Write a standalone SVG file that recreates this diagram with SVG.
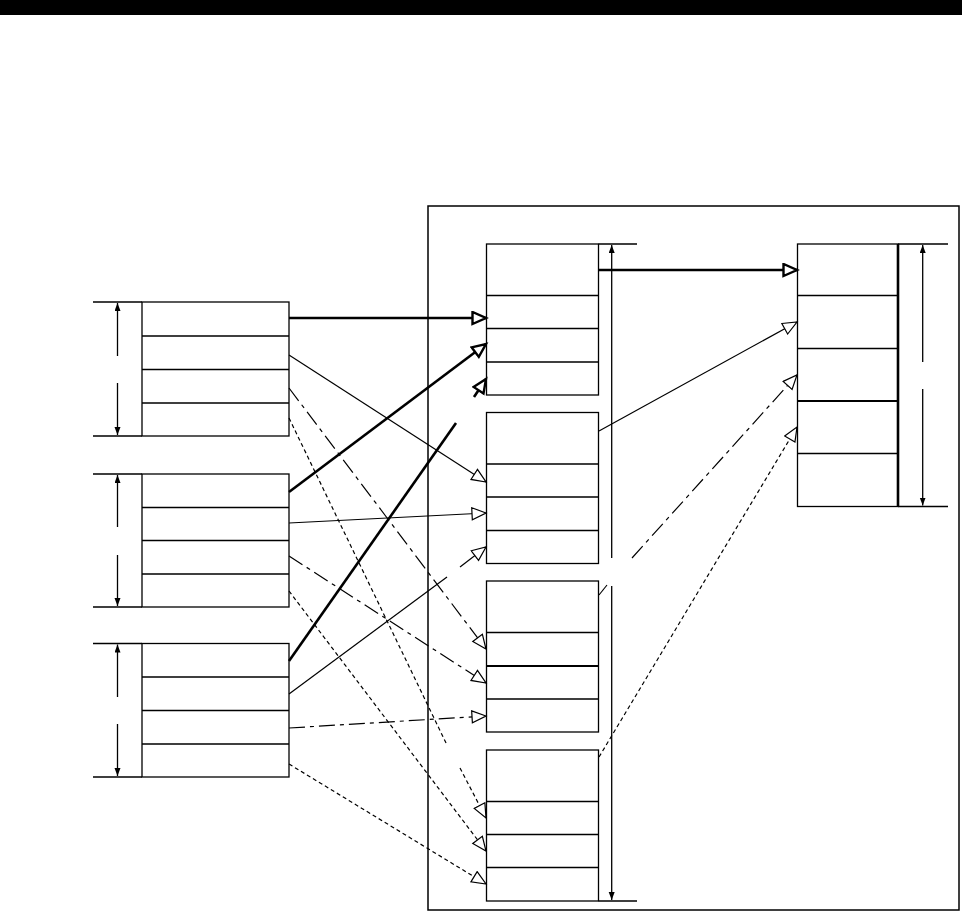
<svg xmlns="http://www.w3.org/2000/svg" width="964" height="913" viewBox="0 0 964 913">
<style>
.box{fill:#fff;stroke:#000;stroke-width:1.3}
.row{stroke:#000;stroke-width:1.3;fill:none}
.ext{stroke:#000;stroke-width:1.3;fill:none}
.dim{stroke:#000;stroke-width:1.3;fill:none}
.thick{stroke:#000;stroke-width:2.6;fill:none}
.thin{stroke:#000;stroke-width:1.2;fill:none}
.dd{stroke:#000;stroke-width:1.2;fill:none;stroke-dasharray:16 5 4 5}
.ds{stroke:#000;stroke-width:1.2;fill:none;stroke-dasharray:4 3}
</style>
<defs>
<marker id="ao" markerUnits="userSpaceOnUse" markerWidth="18" markerHeight="16" refX="15" refY="7" orient="auto">
<path d="M1,1 L15,7 L1,13 Z" fill="#fff" stroke="#000" stroke-width="1.2" stroke-dasharray="none"/>
</marker>
<marker id="aot" markerUnits="userSpaceOnUse" markerWidth="18" markerHeight="16" refX="15" refY="7.5" orient="auto">
<path d="M1.5,1.5 L15,7.5 L1.5,13.5 Z" fill="#fff" stroke="#000" stroke-width="2.4" stroke-dasharray="none"/>
</marker>
<marker id="af" markerUnits="userSpaceOnUse" markerWidth="10" markerHeight="8" refX="8" refY="3" orient="auto">
<path d="M0,0 L8,3 L0,6 Z" fill="#000"/>
</marker>
</defs>
<rect x="0" y="0" width="962" height="15" fill="#000"/>
<rect id="frame" x="428" y="206" width="531" height="704" fill="none" stroke="#000" stroke-width="1.5"/>

<g id="L1">
<rect class="box" x="142" y="302" width="147" height="134"/>
<path class="row" d="M142,336 H289 M142,369.5 H289 M142,403 H289"/>
<path class="ext" d="M93,302 H142 M93,436 H142"/>
<path class="dim" d="M117.5,356 V303" marker-end="url(#af)"/>
<path class="dim" d="M117.5,383 V435" marker-end="url(#af)"/>
</g>
<g id="L2">
<rect class="box" x="142" y="474" width="147" height="133"/>
<path class="row" d="M142,507.5 H289 M142,540.5 H289 M142,574 H289"/>
<path class="ext" d="M93,474 H142 M93,607 H142"/>
<path class="dim" d="M117.5,527 V475" marker-end="url(#af)"/>
<path class="dim" d="M117.5,555 V606" marker-end="url(#af)"/>
</g>
<g id="L3">
<rect class="box" x="142" y="643.5" width="147" height="133.5"/>
<path class="row" d="M142,677 H289 M142,710.5 H289 M142,744 H289"/>
<path class="ext" d="M93,643.5 H142 M93,777 H142"/>
<path class="dim" d="M117.5,697 V644.5" marker-end="url(#af)"/>
<path class="dim" d="M117.5,724 V776" marker-end="url(#af)"/>
</g>

<g id="M1">
<rect class="box" x="486.5" y="244" width="112" height="151"/>
<path class="row" d="M486.5,295.5 H598.5 M486.5,328.5 H598.5 M486.5,362 H598.5"/>
</g>
<g id="M2">
<rect class="box" x="486.5" y="412.5" width="112" height="151"/>
<path class="row" d="M486.5,464 H598.5 M486.5,497 H598.5 M486.5,530.5 H598.5"/>
</g>
<g id="M3">
<rect class="box" x="486.5" y="581" width="112" height="151"/>
<path class="row" d="M486.5,632.5 H598.5 M486.5,699 H598.5"/>
<path d="M486.5,666 H598.5" stroke="#000" stroke-width="2.2"/>
</g>
<g id="M4">
<rect class="box" x="486.5" y="750" width="112" height="151"/>
<path class="row" d="M486.5,801.5 H598.5 M486.5,834.5 H598.5 M486.5,867.5 H598.5"/>
</g>
<g id="Mdim">
<path class="ext" d="M598.5,244 H637 M598.5,901 H637"/>
<path class="dim" d="M611.7,558 V245" marker-end="url(#af)"/>
<path class="dim" d="M611.7,586 V900" marker-end="url(#af)"/>
</g>

<g id="R">
<rect class="box" x="797.5" y="244" width="100.5" height="262.5"/>
<path class="row" d="M797.5,295.5 H898 M797.5,348.5 H898 M797.5,453.5 H898"/>
<path d="M797.5,401 H898" stroke="#000" stroke-width="2.2"/>
<path d="M898,244 V506.5" stroke="#000" stroke-width="2.6"/>
<path class="ext" d="M898,244 H948 M898,506.5 H948"/>
<path class="dim" d="M922.7,362 V245" marker-end="url(#af)"/>
<path class="dim" d="M922.7,389 V505.5" marker-end="url(#af)"/>
</g>

<g id="connectors">
<path class="thick" d="M289,318 L486,318" marker-end="url(#aot)"/>
<path class="thick" d="M599,270 L797,270" marker-end="url(#aot)"/>
<path class="thin" d="M289,355 L486,482" marker-end="url(#ao)"/>
<path class="thick" d="M289,492 L486,344" marker-end="url(#aot)"/>
<path class="thick" d="M289,661 L456,423"/>
<path class="thick" d="M474,397 L486,379" marker-end="url(#aot)"/>
<path class="thin" d="M289,523 L486,513" marker-end="url(#ao)"/>
<path class="thin" d="M289,694 L447,577"/>
<path class="thin" d="M460,567 L486,547" marker-end="url(#ao)"/>
<path class="dd" d="M289,388 L486,649" marker-end="url(#ao)"/>
<path class="dd" d="M289,556 L486,683" marker-end="url(#ao)"/>
<path class="dd" d="M289,728 L486,716" marker-end="url(#ao)"/>
<path class="ds" d="M289,418 L447,745"/>
<path class="ds" d="M460,768 L486,818" marker-end="url(#ao)"/>
<path class="ds" d="M289,591 L486,851" marker-end="url(#ao)"/>
<path class="ds" d="M289,764 L486,884" marker-end="url(#ao)"/>
<path class="thin" d="M599,431 L797,322" marker-end="url(#ao)"/>
<path class="dd" d="M599,595 L607,585"/>
<path class="dd" d="M632,558 L797,375" marker-end="url(#ao)"/>
<path class="ds" d="M599,757 L797,427" marker-end="url(#ao)"/>
</g>
</svg>
